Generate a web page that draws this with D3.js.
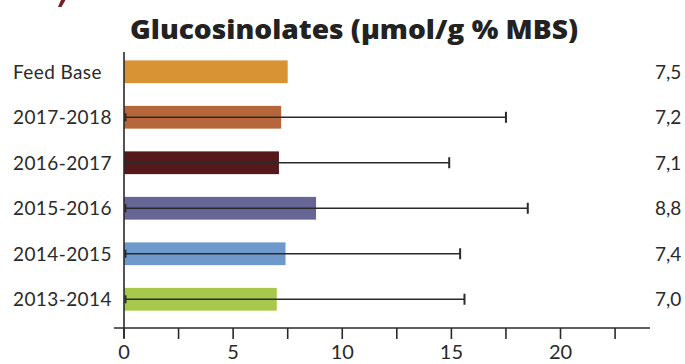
<!DOCTYPE html>
<html><head><meta charset="utf-8">
<script src="https://cdn.jsdelivr.net/npm/d3@7"></script>
<style>body{margin:0;background:#fff}svg{display:block}</style>
</head><body>
<script>
const categories = ["Feed Base","2017-2018","2016-2017","2015-2016","2014-2015","2013-2014"];
const values = [7.5, 7.2, 7.1, 8.8, 7.4, 7.0];
const errorHigh = [null, 17.5, 14.9, 18.5, 15.4, 15.6];
const valueLabels = ["7,5","7,2","7,1","8,8","7,4","7,0"];
const colors = ["#d89434","#b5663b","#55191c","#666595","#7099cb","#a7c84a"];
const xTicks = [0,5,10,15,20];
const xMinorTicks = [2.5,7.5,12.5,17.5,22.5];
const title = "Glucosinolates (µmol/g % MBS)";

const W=685,H=364;
const svg=d3.select("body").append("svg").attr("width",W).attr("height",H);
const x=d3.scaleLinear().domain([0,24.1]).range([124,650]);
const y=d3.scaleBand().domain(categories).range([49,322]).paddingInner(0.5).paddingOuter(0.25);
const ink="#2a2a2a";

// partial red mark top-left
svg.append("path").attr("d","M61,0 L65.5,0 L61.5,7 L58,7 Z").attr("fill","#7a1f22");

svg.append("text").attr("x",130).attr("y",39).attr("font-family","Open Sans, sans-serif")
  .attr("font-weight",800).attr("font-size",26).attr("fill","#222")
  .attr("textLength",448).attr("lengthAdjust","spacingAndGlyphs").text(title);

// bars
svg.selectAll("rect.bar").data(categories).join("rect").attr("class","bar")
  .attr("x",x(0)).attr("y",d=>y(d)).attr("height",y.bandwidth())
  .attr("width",(d,i)=>x(values[i])-x(0)).attr("fill",(d,i)=>colors[i]);

// error bars
const eb=svg.append("g").attr("stroke",ink).attr("stroke-width",1.6);
categories.forEach((c,i)=>{
  if(errorHigh[i]==null) return;
  const cy=y(c)+y.bandwidth()/2;
  eb.append("line").attr("x1",x(0)+1).attr("x2",x(errorHigh[i])).attr("y1",cy).attr("y2",cy);
  eb.append("line").attr("x1",x(errorHigh[i])).attr("x2",x(errorHigh[i])).attr("y1",cy-5.5).attr("y2",cy+5.5).attr("stroke-width",2);
  eb.append("line").attr("x1",x(0)+1.5).attr("x2",x(0)+1.5).attr("y1",cy-4).attr("y2",cy+4).attr("stroke-width",2);
});

// y axis line
svg.append("line").attr("x1",x(0)).attr("x2",x(0)).attr("y1",52).attr("y2",338).attr("stroke",ink).attr("stroke-width",1.6);

// x axis
const ax=svg.append("g").attr("transform","translate(0,328)");
ax.append("line").attr("x1",114).attr("x2",650).attr("stroke",ink).attr("stroke-width",1.6);
ax.selectAll("line.t").data(xTicks.concat(xMinorTicks)).join("line").attr("class","t")
  .attr("x1",d=>x(d)).attr("x2",d=>x(d)).attr("y1",0).attr("y2",11).attr("stroke",ink).attr("stroke-width",1.6);
ax.selectAll("text").data(xTicks).join("text").attr("x",d=>x(d)).attr("y",31)
  .attr("text-anchor","middle").attr("font-family","Lato, sans-serif").attr("font-size",20).attr("fill",ink).text(d=>d);

// category labels
svg.selectAll("text.cat").data(categories).join("text").attr("class","cat")
  .attr("x",13).attr("y",d=>y(d)+y.bandwidth()/2+7).attr("font-family","Lato, sans-serif")
  .attr("font-size",19).attr("letter-spacing",0.4).attr("fill",ink).text(d=>d);

// value labels
svg.selectAll("text.val").data(valueLabels).join("text").attr("class","val")
  .attr("x",655).attr("y",(d,i)=>y(categories[i])+y.bandwidth()/2+7).attr("font-family","Lato, sans-serif")
  .attr("font-size",19).attr("fill",ink).text(d=>d);
</script>
</body></html>
